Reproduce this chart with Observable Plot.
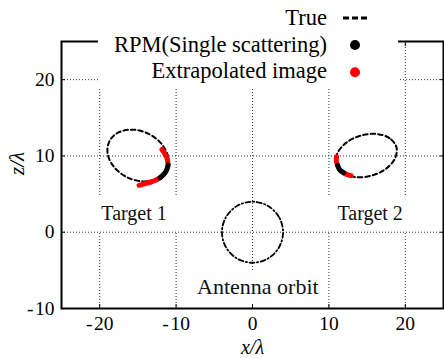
<!DOCTYPE html>
<html><head><meta charset="utf-8">
<script src="https://cdn.jsdelivr.net/npm/d3@7"></script>
<script src="https://cdn.jsdelivr.net/npm/@observablehq/plot@0.6"></script>
<style>
body{margin:0;background:#fff;}
#wrap{position:relative;width:444px;height:358px;overflow:hidden;}
#legend{position:absolute;left:98px;top:0;width:300px;height:88px;background:#fff;font-family:"Liberation Serif",serif;font-size:22.5px;color:#000;}
.row{position:absolute;left:0;width:300px;height:26px;line-height:26px;}
.row .lab{position:absolute;right:71px;top:0;white-space:nowrap;}
.row svg{position:absolute;left:245px;top:0;}
</style>
</head><body>
<div id="wrap"><div id="legend"></div></div>
<script>
// ---- data ----
const xTicks = [-20, -10, 0, 10, 20];
const yTicks = [-10, 0, 10, 20];
const legendLabels = ["True", "RPM(Single scattering)", "Extrapolated image"];

// true target shapes
const target1X = [-11.26, -11.05, -11.91, -13.59, -15.65, -17.54, -18.74, -18.95, -18.09, -16.41, -14.35, -12.46];
const target1Y = [8.20, 9.87, 11.59, 12.90, 13.44, 13.08, 11.90, 10.23, 8.51, 7.20, 6.66, 7.02];
const target2X = [18.83, 17.92, 16.21, 14.14, 12.28, 11.12, 10.97, 11.88, 13.59, 15.66, 17.52, 18.68];
const target2Y = [11.19, 12.34, 12.88, 12.66, 11.74, 10.37, 8.91, 7.76, 7.22, 7.44, 8.36, 9.73];
// antenna orbit
const orbitX = [4, 3.46, 2, 0, -2, -3.46, -4, -3.46, -2, 0, 2, 3.46];
const orbitY = [0, 2, 3.46, 4, 3.46, 2, 0, -2, -3.46, -4, -3.46, -2];

// RPM (single scattering) image points
const rpm1X = [-11.05, -11.3, -11.7, -12.1];
const rpm1Y = [8.8, 8.0, 7.5, 7.15];
const rpm2X = [11.15, 11.4, 11.9];
const rpm2Y = [8.75, 8.2, 7.8];

// extrapolated image points
const ext1aX = [-11.85, -11.45, -11.16, -11.05];
const ext1aY = [10.85, 10.25, 9.6, 8.8];
const ext1bX = [-12.1, -12.7, -13.4, -14.1, -14.85];
const ext1bY = [7.15, 6.8, 6.55, 6.35, 6.15];
const ext2aX = [11.0, 10.97, 11.15];
const ext2aY = [9.9, 9.3, 8.75];
const ext2bX = [11.9, 12.4, 12.9];
const ext2bY = [7.8, 7.55, 7.42];

// annotations
const labelTexts = ["Target 1", "Target 2", "Antenna orbit"];
const labelX = [-15.5, 15.4, 0.7];
const labelY = [2.4, 2.4, -7.15];
const boxX1 = [-20.6, 9.4, -8.2];
const boxX2 = [-9.4, 20.6, 9.2];
const boxY1 = [0.1, 0.1, -10];
const boxY2 = [4.8, 4.8, -5.0];

// ---- build tables ----
const pts = (xs, ys, id) => xs.map((x, i) => ({x, y: ys[i], id}));
const trueShapes = [...pts(target1X, target1Y, "t1"), ...pts(target2X, target2Y, "t2")];
const orbit = pts(orbitX, orbitY, "orbit");
const rpm = [...pts(rpm1X, rpm1Y, "r1"), ...pts(rpm2X, rpm2Y, "r2")];
const ext = [...pts(ext1aX, ext1aY, "e1a"), ...pts(ext1bX, ext1bY, "e1b"), ...pts(ext2aX, ext2aY, "e2a"), ...pts(ext2bX, ext2bY, "e2b")];
const labels = labelTexts.map((t, i) => ({t, x: labelX[i], y: labelY[i]}));
const boxes = labelTexts.map((t, i) => ({x1: boxX1[i], x2: boxX2[i], y1: boxY1[i], y2: boxY2[i]}));

const fmt = d => d < 0 ? "-\u200A" + (-d) : String(d);
const serif = "Liberation Serif";

const plot = Plot.plot({
  width: 444, height: 358,
  marginLeft: 61, marginRight: 1, marginTop: 41, marginBottom: 50,
  style: {fontFamily: serif, fontSize: "19.5px", background: "#fff", color: "#000"},
  x: {domain: [-25, 25], label: null},
  y: {domain: [-10, 25], label: null},
  marks: [
    Plot.gridX(xTicks, {stroke: "#333", strokeOpacity: 1, strokeWidth: 1, strokeDasharray: "1,2"}),
    Plot.gridY(yTicks, {stroke: "#333", strokeOpacity: 1, strokeWidth: 1, strokeDasharray: "1,2"}),
    Plot.rect(boxes, {x1: "x1", x2: "x2", y1: "y1", y2: "y2", fill: "#fff"}),
    Plot.text(labels.slice(0, 2), {x: "x", y: "y", text: "t", fontSize: 20, fontFamily: serif, fill: "#111", lineAnchor: "middle"}),
    Plot.text(labels.slice(2), {x: "x", y: "y", text: "t", fontSize: 22, fontFamily: serif, fill: "#111", lineAnchor: "middle"}),
    Plot.line(trueShapes, {x: "x", y: "y", z: "id", curve: "catmull-rom-closed", stroke: "#000", strokeWidth: 2, strokeDasharray: "4.5,3"}),
    Plot.line(orbit, {x: "x", y: "y", curve: "catmull-rom-closed", stroke: "#000", strokeWidth: 1.8, strokeDasharray: "5,2.5,1.3,2.5"}),
    Plot.line(ext, {x: "x", y: "y", z: "id", curve: "catmull-rom", stroke: "#ff0000", strokeWidth: 5, strokeLinecap: "round"}),
    Plot.line(rpm, {x: "x", y: "y", z: "id", curve: "catmull-rom", stroke: "#000", strokeWidth: 5, strokeLinecap: "round"}),
    Plot.frame({stroke: "#000", strokeWidth: 2}),
    Plot.axisX(xTicks, {anchor: "bottom", tickSize: -4, tickPadding: 11.5, tickFormat: fmt, fontSize: 19.5, label: null}),
    Plot.axisX(xTicks, {anchor: "top", tickSize: -4, tickFormat: () => "", label: null}),
    Plot.axisY(yTicks, {anchor: "left", tickSize: -4, tickPadding: 11, tickFormat: fmt, fontSize: 19.5, label: null}),
    Plot.axisY(yTicks, {anchor: "right", tickSize: -4, tickFormat: () => "", label: null}),
    Plot.text(["x/λ"], {frameAnchor: "bottom", dy: 45, fontStyle: "italic", fontSize: 20, fontFamily: serif}),
    Plot.text(["z/λ"], {frameAnchor: "left", dx: -44, rotate: -90, fontStyle: "italic", fontSize: 21, fontFamily: serif})
  ]
});
document.getElementById("wrap").prepend(plot);

// ---- legend ----
const legend = d3.select("#legend");
const rowTops = [5.4, 31.7, 58];
const symbolKinds = ["dash", "black", "red"];
legendLabels.forEach((name, i) => {
  const row = legend.append("div").attr("class", "row").style("top", rowTops[i] + "px");
  row.append("span").attr("class", "lab").text(name);
  const svg = row.append("svg").attr("width", 28).attr("height", 26);
  if (symbolKinds[i] === "dash") {
    svg.append("line").attr("x1", 0).attr("x2", 25).attr("y1", 13).attr("y2", 13)
      .attr("stroke", "#000").attr("stroke-width", 3).attr("stroke-dasharray", "6,3");
  } else {
    svg.append("circle").attr("cx", 12).attr("cy", i === 1 ? 13 : 14.3).attr("r", 5)
      .attr("fill", symbolKinds[i] === "red" ? "#ff0000" : "#000");
  }
});
</script>
</body></html>
